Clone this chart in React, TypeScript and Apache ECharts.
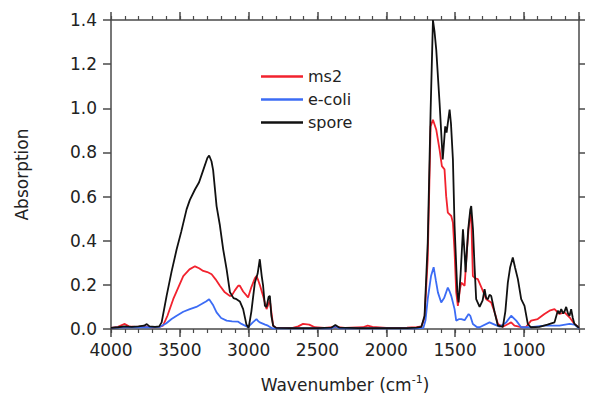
import React, { useEffect, useRef } from "react";
import * as echarts from "echarts";

// Wavenumber (cm-1) and absorption values
const sporeWn = [4000, 3950, 3900, 3850, 3800, 3760, 3740, 3720, 3680, 3650, 3632, 3596, 3560, 3523, 3490, 3451, 3427, 3390, 3360, 3330, 3300, 3287, 3270, 3258, 3233, 3209, 3185, 3160, 3136, 3110, 3088, 3064, 3040, 3016, 3000, 2980, 2955, 2935, 2919, 2905, 2895, 2882, 2870, 2855, 2846, 2835, 2822, 2800, 2700, 2500, 2400, 2370, 2340, 2200, 2000, 1850, 1780, 1745, 1722, 1699, 1678, 1661, 1650, 1637, 1613, 1590, 1580, 1572, 1562, 1540, 1530, 1516, 1504, 1484, 1475, 1460, 1443, 1430, 1424, 1405, 1390, 1383, 1370, 1359, 1347, 1322, 1300, 1286, 1274, 1262, 1250, 1238, 1213, 1189, 1153, 1135, 1117, 1100, 1081, 1065, 1044, 1020, 996, 972, 950, 887, 829, 778, 754, 742, 729, 715, 705, 693, 680, 669, 657, 645, 633, 609, 600];
const sporeAbs = [0.005, 0.008, 0.012, 0.01, 0.012, 0.015, 0.022, 0.012, 0.01, 0.012, 0.03, 0.15, 0.26, 0.361, 0.44, 0.542, 0.585, 0.632, 0.665, 0.72, 0.775, 0.786, 0.76, 0.72, 0.557, 0.47, 0.361, 0.27, 0.167, 0.14, 0.135, 0.125, 0.09, 0.02, 0.005, 0.08, 0.21, 0.25, 0.316, 0.24, 0.196, 0.105, 0.1, 0.145, 0.15, 0.06, 0.015, 0.005, 0.004, 0.004, 0.006, 0.018, 0.006, 0.004, 0.004, 0.004, 0.006, 0.01, 0.06, 0.39, 0.99, 1.4, 1.35, 1.265, 1.025, 0.768, 0.85, 0.918, 0.89, 0.994, 0.93, 0.768, 0.467, 0.167, 0.12, 0.25, 0.452, 0.33, 0.257, 0.45, 0.54, 0.557, 0.45, 0.286, 0.135, 0.1, 0.13, 0.18, 0.14, 0.135, 0.155, 0.15, 0.076, 0.015, 0.01, 0.08, 0.21, 0.28, 0.324, 0.28, 0.226, 0.135, 0.105, 0.023, 0.008, 0.01, 0.02, 0.03, 0.083, 0.07, 0.09, 0.07, 0.08, 0.1, 0.07, 0.06, 0.09, 0.05, 0.023, 0.01, 0.005];

const ms2Wn = [4000, 3950, 3900, 3870, 3820, 3760, 3700, 3650, 3622, 3590, 3548, 3510, 3475, 3430, 3390, 3360, 3330, 3300, 3269, 3240, 3209, 3173, 3136, 3124, 3100, 3076, 3064, 3040, 3004, 2980, 2955, 2943, 2930, 2919, 2895, 2870, 2846, 2822, 2800, 2680, 2640, 2605, 2560, 2520, 2450, 2370, 2300, 2170, 2135, 2100, 2000, 1850, 1780, 1745, 1722, 1699, 1678, 1661, 1637, 1613, 1596, 1577, 1565, 1553, 1528, 1516, 1504, 1492, 1480, 1465, 1455, 1431, 1415, 1402, 1390, 1383, 1371, 1355, 1335, 1310, 1290, 1274, 1238, 1213, 1189, 1153, 1093, 1069, 1020, 984, 948, 900, 851, 814, 778, 742, 705, 669, 633, 609, 600];
const ms2Abs = [0.005, 0.01, 0.023, 0.012, 0.01, 0.012, 0.008, 0.01, 0.015, 0.06, 0.135, 0.19, 0.24, 0.27, 0.284, 0.275, 0.263, 0.258, 0.248, 0.225, 0.196, 0.166, 0.15, 0.15, 0.175, 0.196, 0.196, 0.17, 0.143, 0.19, 0.23, 0.24, 0.22, 0.2, 0.15, 0.09, 0.13, 0.015, 0.005, 0.005, 0.012, 0.023, 0.02, 0.008, 0.005, 0.01, 0.005, 0.008, 0.015, 0.01, 0.005, 0.006, 0.008, 0.012, 0.05, 0.316, 0.918, 0.948, 0.903, 0.813, 0.738, 0.723, 0.602, 0.527, 0.512, 0.482, 0.35, 0.166, 0.105, 0.18, 0.21, 0.196, 0.35, 0.452, 0.52, 0.512, 0.24, 0.23, 0.226, 0.19, 0.16, 0.135, 0.12, 0.076, 0.023, 0.01, 0.03, 0.015, 0.008, 0.01, 0.038, 0.045, 0.068, 0.083, 0.09, 0.068, 0.075, 0.053, 0.023, 0.01, 0.005];

const ecoliWn = [4000, 3900, 3800, 3700, 3644, 3600, 3560, 3523, 3475, 3427, 3380, 3342, 3310, 3287, 3260, 3233, 3200, 3160, 3120, 3076, 3052, 3004, 2970, 2943, 2930, 2919, 2880, 2860, 2830, 2700, 2400, 2370, 2340, 2000, 1780, 1731, 1715, 1699, 1675, 1656, 1640, 1625, 1601, 1580, 1553, 1540, 1528, 1504, 1492, 1470, 1455, 1431, 1402, 1390, 1371, 1340, 1322, 1250, 1213, 1177, 1129, 1093, 1056, 1020, 950, 850, 742, 669, 633, 600];
const ecoliAbs = [0.005, 0.008, 0.008, 0.008, 0.01, 0.025, 0.045, 0.06, 0.078, 0.09, 0.1, 0.113, 0.125, 0.135, 0.11, 0.075, 0.05, 0.038, 0.035, 0.033, 0.023, 0.008, 0.03, 0.045, 0.035, 0.03, 0.02, 0.015, 0.003, 0.003, 0.003, 0.012, 0.003, 0.003, 0.003, 0.005, 0.04, 0.135, 0.24, 0.28, 0.22, 0.166, 0.12, 0.14, 0.188, 0.17, 0.15, 0.09, 0.038, 0.045, 0.045, 0.04, 0.068, 0.06, 0.023, 0.008, 0.008, 0.03, 0.02, 0.01, 0.03, 0.06, 0.038, 0.008, 0.008, 0.015, 0.015, 0.023, 0.02, 0.003];

const yTicks = [0, 0.2, 0.4, 0.6, 0.8, 1.0, 1.2, 1.4];

const toPairs = (wn: number[], v: number[]) => wn.map((w, i) => [-w, v[i]]);

const FONT = "DejaVu Sans";
const AXIS_COLOR = "#4a4a4a";
const LINE_W = 1.8;

export default function App() {
  const ref = useRef<HTMLDivElement>(null);
  useEffect(() => {
    if (!ref.current) return;
    const chart = echarts.init(ref.current, undefined, { renderer: "svg" });
    const xBase = {
      type: "value" as const,
      min: -4000,
      max: -600,
      splitLine: { show: false },
      axisLine: { onZero: false },
    };
    const yBase = {
      type: "value" as const,
      min: yTicks[0],
      max: yTicks[yTicks.length - 1],
      interval: 0.2,
      splitLine: { show: false },
      axisLine: { show: true, onZero: false, lineStyle: { color: AXIS_COLOR, width: 1.5 } },
    };
    chart.setOption({
      animation: false,
      grid: { left: 111, right: 15, top: 20, bottom: 68 },
      legend: {
        orient: "vertical",
        left: 256,
        top: 62,
        icon: "rect",
        itemWidth: 42,
        itemHeight: 2.5,
        itemGap: 4,
        textStyle: { fontFamily: FONT, fontSize: 16, color: "#222", lineHeight: 19 },
        data: ["ms2", "e-coli", "spore"],
      },
      xAxis: [
        {
          ...xBase,
          position: "bottom",
          interval: 500,
          axisLine: { show: true, onZero: false, lineStyle: { color: AXIS_COLOR, width: 1.5 } },
          axisTick: { show: true, length: 8, lineStyle: { color: AXIS_COLOR, width: 1.5 } },
          axisLabel: {
            show: true,
            margin: 12,
            showMaxLabel: false,
            fontFamily: FONT,
            fontSize: 17,
            color: "#222",
            formatter: (v: number) => String(-v),
          },
          name: "{a|Wavenumber (cm}{s|-1}{a|)}",
          nameLocation: "middle",
          nameGap: 45,
          nameTextStyle: {
            rich: {
              a: { fontFamily: FONT, fontSize: 17, color: "#222" },
              s: { fontFamily: FONT, fontSize: 11, color: "#222", verticalAlign: "top", padding: [0, 0, 10, 0] },
            },
          },
        },
        {
          ...xBase,
          position: "bottom",
          interval: 100,
          axisLine: { show: false, onZero: false },
          axisTick: { show: true, length: 4, lineStyle: { color: AXIS_COLOR, width: 1.2 } },
          axisLabel: { show: false },
        },
        {
          ...xBase,
          position: "top",
          interval: 500,
          axisLine: { show: true, onZero: false, lineStyle: { color: AXIS_COLOR, width: 1.5 } },
          axisTick: { show: true, length: 8, lineStyle: { color: AXIS_COLOR, width: 1.5 } },
          axisLabel: { show: false },
        },
        {
          ...xBase,
          position: "top",
          interval: 100,
          axisLine: { show: false, onZero: false },
          axisTick: { show: true, length: 4, lineStyle: { color: AXIS_COLOR, width: 1.2 } },
          axisLabel: { show: false },
        },
      ],
      yAxis: [
        {
          ...yBase,
          position: "left",
          axisTick: { show: true, length: 8, lineStyle: { color: AXIS_COLOR, width: 1.5 } },
          axisLabel: {
            show: true,
            margin: 14,
            fontFamily: FONT,
            fontSize: 17,
            color: "#222",
            formatter: (v: number) => v.toFixed(1),
          },
          name: "Absorption",
          nameLocation: "middle",
          nameGap: 81,
          nameTextStyle: { fontFamily: FONT, fontSize: 17, color: "#222" },
        },
        {
          ...yBase,
          position: "right",
          axisTick: { show: true, length: 6, lineStyle: { color: AXIS_COLOR, width: 1.5 } },
          axisLabel: { show: false },
        },
      ],
      series: [
        {
          name: "ms2",
          type: "line",
          xAxisIndex: 0,
          yAxisIndex: 0,
          showSymbol: false,
          symbol: "none",
          data: toPairs(ms2Wn, ms2Abs),
          lineStyle: { color: "#f2222e", width: LINE_W },
          itemStyle: { color: "#f2222e" },
        },
        {
          name: "e-coli",
          type: "line",
          xAxisIndex: 0,
          yAxisIndex: 0,
          showSymbol: false,
          symbol: "none",
          data: toPairs(ecoliWn, ecoliAbs),
          lineStyle: { color: "#3c6cf5", width: LINE_W },
          itemStyle: { color: "#3c6cf5" },
        },
        {
          name: "spore",
          type: "line",
          xAxisIndex: 0,
          yAxisIndex: 0,
          showSymbol: false,
          symbol: "none",
          data: toPairs(sporeWn, sporeAbs),
          lineStyle: { color: "#111111", width: LINE_W },
          itemStyle: { color: "#111111" },
        },
      ],
    });
    return () => chart.dispose();
  }, []);
  return <div ref={ref} style={{ width: 594, height: 398, position: "absolute", left: 0, top: 0 }} />;
}
